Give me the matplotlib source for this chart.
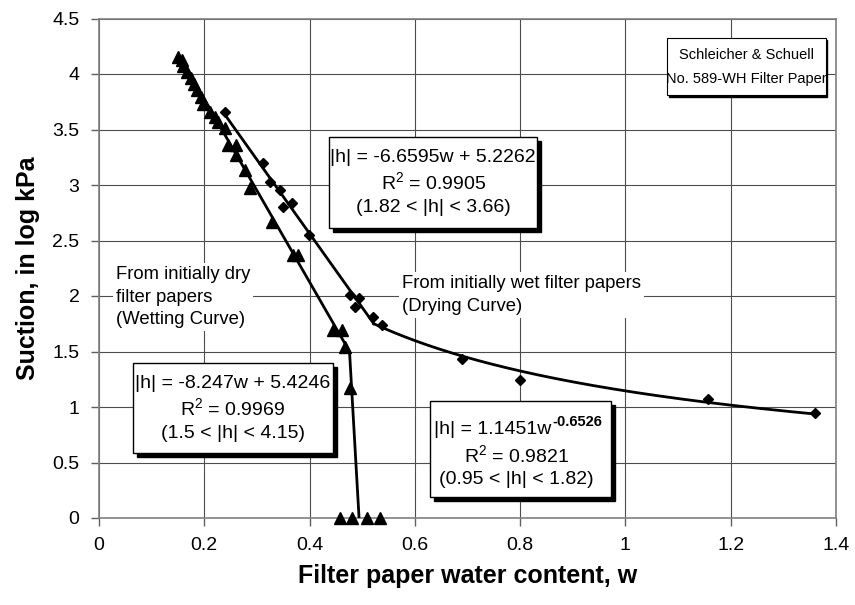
import matplotlib
matplotlib.use("Agg")
import matplotlib.pyplot as plt
from matplotlib.patches import Rectangle
import numpy as np

plt.rcParams['font.family'] = ['Liberation Sans', 'DejaVu Sans']
plt.rcParams['mathtext.fontset'] = 'custom'
plt.rcParams['mathtext.rm'] = 'Liberation Sans'
plt.rcParams['mathtext.it'] = 'Liberation Sans:italic'
plt.rcParams['mathtext.bf'] = 'Liberation Sans:bold'

# Wetting curve (initially dry filter papers) - triangles
wet_w = [0.150, 0.158, 0.160, 0.167, 0.175, 0.181, 0.186, 0.194, 0.198, 0.211,
         0.221, 0.226, 0.239, 0.245, 0.260, 0.260, 0.278, 0.287, 0.329, 0.369,
         0.378, 0.445, 0.462, 0.468, 0.477, 0.458, 0.481, 0.509, 0.534]
wet_h = [4.153, 4.126, 4.072, 4.018, 3.964, 3.910, 3.856, 3.793, 3.730, 3.658,
         3.613, 3.568, 3.514, 3.360, 3.360, 3.270, 3.135, 2.973, 2.667, 2.369,
         2.369, 1.694, 1.694, 1.541, 1.171, 0.0, 0.0, 0.0, 0.0]

# Drying curve (initially wet filter papers) - diamonds
dry_w = [0.240, 0.312, 0.325, 0.344, 0.350, 0.367, 0.399, 0.477, 0.494, 0.487,
         0.521, 0.538, 0.690, 0.800, 1.156, 1.361]
dry_h = [3.658, 3.198, 3.027, 2.955, 2.802, 2.838, 2.550, 2.009, 1.982, 1.901,
         1.811, 1.739, 1.432, 1.243, 1.072, 0.946]

# Fit parameters
wet_slope, wet_icpt = -8.247, 5.4246
wet_hmax, wet_hmin = 4.15, 1.5
wet_end_w = 0.494            # wetting curve drops to zero suction here
dry_slope, dry_icpt = -6.6595, 5.2262
dry_hmax = 3.66
pow_a, pow_b = 1.1451, -0.6526
dry_wmax = 1.36

xticks = [0, 0.2, 0.4, 0.6, 0.8, 1, 1.2, 1.4]
yticks = [0, 0.5, 1, 1.5, 2, 2.5, 3, 3.5, 4, 4.5]

fig = plt.figure(figsize=(8.55, 6.05), dpi=100)
ax = fig.add_axes([99/855, 1-518/605, (836-99)/855, (518-18.5)/605])
ax.set_xlim(0, 1.4)
ax.set_ylim(0, 4.5)
ax.set_xticks(xticks)
ax.set_xticklabels([f"{t:g}" for t in xticks])
ax.set_yticks(yticks)
ax.set_yticklabels([f"{t:g}" for t in yticks])
ax.grid(True, color='#4d4d4d', linewidth=0.8)
ax.set_axisbelow(True)
for s in ax.spines.values():
    s.set_color('#808080')
    s.set_linewidth(1.2)
ax.tick_params(direction='out', length=6, width=1, color='#606060',
               labelsize=14, pad=8)

# fitted lines
w1 = (wet_icpt - wet_hmax) / -wet_slope
w2 = (wet_icpt - wet_hmin) / -wet_slope
ax.plot([w1, w2, wet_end_w], [wet_hmax, wet_hmin, 0], color='black', lw=2.0, zorder=3)

wd1 = (dry_icpt - dry_hmax) / -dry_slope
ws = np.linspace(0.45, 0.6, 20001)
diff = dry_slope * ws + dry_icpt - pow_a * ws ** pow_b
wi = ws[np.argmin(np.abs(diff))]
wl = np.linspace(wd1, wi, 50)
ax.plot(wl, dry_slope * wl + dry_icpt, color='black', lw=2.0, zorder=3)
wp = np.linspace(wi, dry_wmax, 200)
ax.plot(wp, pow_a * wp ** pow_b, color='black', lw=2.0, zorder=3)

ax.plot(wet_w, wet_h, linestyle='none', marker='^', ms=8.5, color='black', zorder=4, clip_on=False)
ax.plot(dry_w, dry_h, linestyle='none', marker='D', ms=5, color='black', zorder=4, clip_on=False)

ax.set_xlabel('Filter paper water content, w', fontsize=18, fontweight='bold', labelpad=7)
ax.set_ylabel('Suction, in log kPa', fontsize=18, fontweight='bold', labelpad=9)


def px2d(px, py):
    return (px - 99) / 526.0, (518 - py) / 111.0


def box(x0, y0, x1, y1, shadow=4, lw=1.0):
    a0 = px2d(x0, y1)
    a1 = px2d(x1, y0)
    if shadow:
        s0 = px2d(x0 + shadow, y1 + shadow)
        ax.add_patch(Rectangle(s0, a1[0] - a0[0], a1[1] - a0[1], facecolor='black',
                               edgecolor='black', zorder=5, clip_on=False))
    ax.add_patch(Rectangle(a0, a1[0] - a0[0], a1[1] - a0[1], facecolor='white',
                           edgecolor='black', lw=lw, zorder=6, clip_on=False))


def txt(px, py, s, ha='center', fs=14, **kw):
    x, y = px2d(px, py)
    return ax.text(x, y, s, ha=ha, va='center', fontsize=fs, zorder=7, **kw)


# Filter paper label
box(667, 38, 825, 95, shadow=1.5, lw=0.8)
txt(746, 55, 'Schleicher & Schuell', fs=10.5)
txt(746, 79, 'No. 589-WH Filter Paper', fs=10.5)

# drying linear fit
box(329, 137, 537, 228)
txt(433, 157, '|h| = -6.6595w + 5.2262')
txt(433, 182, r'R$^2$ = 0.9905')
txt(433, 207, '(1.82 < |h| < 3.66)')

# wetting linear fit
box(133, 363, 333, 453)
txt(233, 383, '|h| = -8.247w + 5.4246')
txt(233, 408, r'R$^2$ = 0.9969')
txt(233, 433, '(1.5 < |h| < 4.15)')

# power fit
box(430, 401, 611, 497)
t1 = txt(434, 430, '|h| = 1.1451w', ha='left')
txt(516, 455, r'R$^2$ = 0.9821')
txt(516, 480, '(0.95 < |h| < 1.82)')
fig.canvas.draw()
bb = t1.get_window_extent()
xe = bb.x1 + 1
ye = bb.y1 - 1
xd, yd = ax.transData.inverted().transform((xe, ye))
ax.text(xd, yd, '-0.6526', ha='left', va='center', fontsize=10.5, fontweight='bold', zorder=7)

# curve labels
x, y = px2d(116, 297)
ax.text(x, y, 'From initially dry\nfilter papers\n(Wetting Curve)', ha='left', va='center',
        fontsize=13.3, linespacing=1.45, zorder=7,
        bbox=dict(facecolor='white', edgecolor='none', pad=2))
x, y = px2d(402, 295)
ax.text(x, y, 'From initially wet filter papers\n(Drying Curve)', ha='left', va='center',
        fontsize=13.3, linespacing=1.45, zorder=7,
        bbox=dict(facecolor='white', edgecolor='none', pad=2))

fig.savefig('out.png', dpi=100)
